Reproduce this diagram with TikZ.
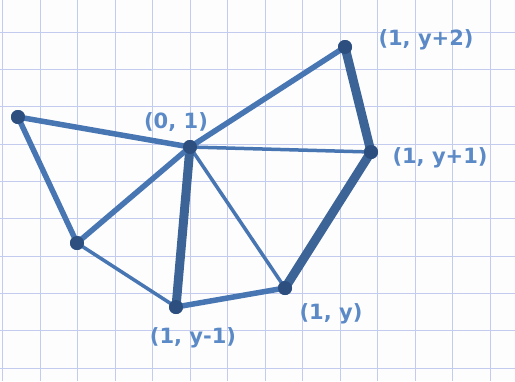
\documentclass[tikz,border=0pt]{standalone}
\usepackage{fontspec}
\setmainfont{DejaVu Sans}
\definecolor{ink}{HTML}{4876B2}
\definecolor{inkdark}{HTML}{2C4F80}
\definecolor{inklabel}{HTML}{5B8AC6}
\definecolor{gridc}{HTML}{C3CCEE}
\begin{document}
\begin{tikzpicture}[x=1pt,y=-1pt,
  vtx/.style={circle,fill=inkdark,inner sep=0pt,minimum size=14pt},
  thin edge/.style={draw=ink,line width=3.5pt,line cap=round},
  mid edge/.style={draw=ink,line width=5.5pt,line cap=round},
  thick edge/.style={draw=ink!85!black,line width=9pt,line cap=round},
  lbl/.style={text=inklabel,font=\bfseries\fontsize{21}{22}\selectfont}]
\useasboundingbox (0,0) rectangle (515,381);
\fill[white!97!gridc] (0,0) rectangle (515,381);
\foreach \i in {0,...,13} \draw[gridc,line width=0.9pt] (2.5+37.5*\i,0) -- (2.5+37.5*\i,381);
\foreach \j in {0,...,10} \draw[gridc,line width=0.9pt] (0,-5+37.3*\j) -- (515,-5+37.3*\j);
\node[vtx] (A) at (18,117) {};
\node[vtx] (O) at (190,147) {};
\node[vtx] (P2) at (345,47) {};
\node[vtx] (P1) at (371,152) {};
\node[vtx] (Py) at (285,288) {};
\node[vtx] (Pm) at (176,307) {};
\node[vtx] (B) at (77,243) {};
\draw[mid edge] (A.center) -- (O.center);
\draw[mid edge] (A.center) -- (B.center);
\draw[mid edge] (O.center) -- (P2.center);
\draw[thick edge] (P2.center) -- (P1.center);
\draw[thin edge] (O.center) -- (P1.center);
\draw[thick edge] (P1.center) -- (Py.center);
\draw[thin edge] (O.center) -- (Py.center);
\draw[thick edge] (O.center) -- (Pm.center);
\draw[mid edge] (O.center) -- (B.center);
\draw[thin edge] (B.center) -- (Pm.center);
\draw[mid edge] (Pm.center) -- (Py.center);
\foreach \v in {A,O,P2,P1,Py,Pm,B} \fill[inkdark] (\v) circle (7);
\node[lbl] (lO) at (176,122) {(0, 1)};
\node[lbl] (lP2) at (426,40) {(1, y+2)};
\node[lbl] (lP1) at (440,158) {(1, y+1)};
\node[lbl] (lPy) at (331,314) {(1, y)};
\node[lbl] (lPm) at (193,338) {(1, y-1)};
\end{tikzpicture}
\end{document}
